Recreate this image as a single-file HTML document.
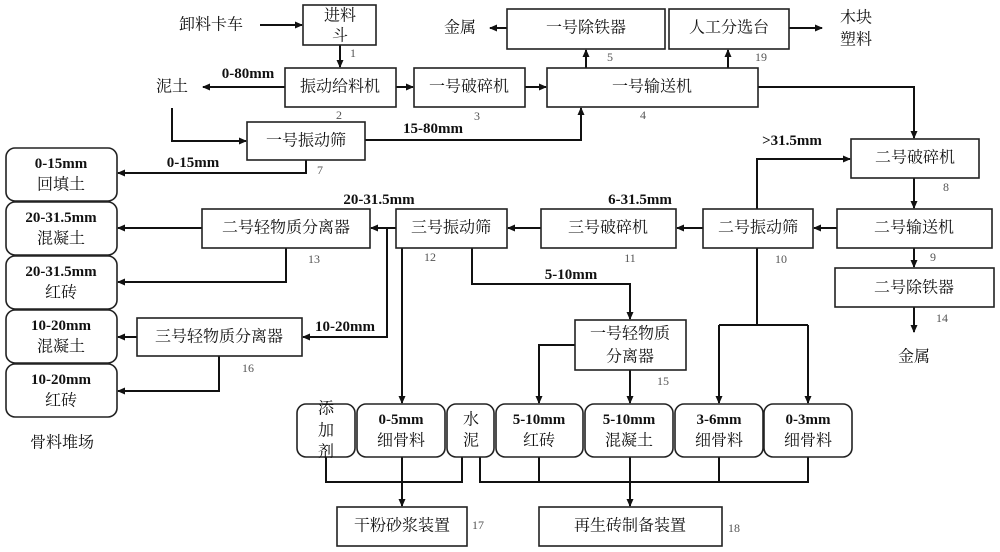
<!DOCTYPE html>
<html><head><meta charset="utf-8"><style>
html,body{margin:0;padding:0;background:#fff}
svg{display:block}
.t{font-family:"Liberation Serif","Noto Serif CJK SC",serif;font-size:16px;fill:#111;text-anchor:middle;dominant-baseline:central}
.b{font-family:"Liberation Serif","Noto Serif CJK SC",serif;font-size:15px;font-weight:bold;fill:#111;text-anchor:middle;dominant-baseline:central}
.n{font-family:"Liberation Serif",serif;font-size:12px;fill:#555;text-anchor:middle;dominant-baseline:central}
rect{fill:#fff;stroke:#222;stroke-width:1.6}
path,line{stroke:#111;stroke-width:2;fill:none}
</style></head><body>
<svg width="1000" height="552" viewBox="0 0 1000 552">
<defs><marker id="a" markerWidth="8" markerHeight="8" refX="7" refY="4" orient="auto" markerUnits="userSpaceOnUse"><path d="M0,0.5 L8,4 L0,7.5Z" style="fill:#111;stroke:none"/></marker></defs>

<g marker-end="url(#a)">
<line x1="260" y1="25" x2="302" y2="25"/>
<line x1="340" y1="45" x2="340" y2="67"/>
<line x1="285" y1="87" x2="203" y2="87"/>
<path d="M172,108 V141 H246"/>
<line x1="396" y1="87" x2="413" y2="87"/>
<line x1="525" y1="87" x2="546" y2="87"/>
<path d="M365,140 H581 V108"/>
<line x1="586" y1="68" x2="586" y2="50"/>
<line x1="728" y1="68" x2="728" y2="50"/>
<line x1="507" y1="28" x2="490" y2="28"/>
<line x1="789" y1="28" x2="822" y2="28"/>
<path d="M758,87 H914 V138"/>
<path d="M306,160 V173 H118"/>
<line x1="914" y1="178" x2="914" y2="208"/>
<line x1="837" y1="228" x2="814" y2="228"/>
<line x1="914" y1="248" x2="914" y2="267"/>
<line x1="914" y1="307" x2="914" y2="332"/>
<path d="M757,209 V159 H850"/>
<line x1="703" y1="228" x2="677" y2="228"/>
<line x1="719" y1="325" x2="719" y2="403"/>
<line x1="808" y1="325" x2="808" y2="403"/>
<line x1="541" y1="228" x2="508" y2="228"/>
<line x1="396" y1="228" x2="371" y2="228"/>
<path d="M387,228 V337 H303"/>
<line x1="402" y1="248" x2="402" y2="403"/>
<path d="M472,248 V284 H630 V319"/>
<line x1="202" y1="228" x2="118" y2="228"/>
<path d="M286,248 V282 H118"/>
<line x1="137" y1="337" x2="118" y2="337"/>
<path d="M219,356 V391 H118"/>
<path d="M575,345 H539 V403"/>
<line x1="630" y1="370" x2="630" y2="403"/>
<line x1="402" y1="457" x2="402" y2="506"/>
<line x1="630" y1="482" x2="630" y2="506"/>
</g>
<line x1="757" y1="248" x2="757" y2="325"/>
<line x1="719" y1="325" x2="808" y2="325"/>
<path d="M326,457 V482 H462 V457"/>
<path d="M480,457 V482 H808 V457"/>
<line x1="539" y1="457" x2="539" y2="482"/>
<line x1="630" y1="457" x2="630" y2="482"/>
<line x1="719" y1="457" x2="719" y2="482"/>

<rect x="303" y="5" width="73" height="40"/>
<text class="t" x="340" y="16">进料</text><text class="t" x="340" y="36">斗</text>
<rect x="285" y="68" width="111" height="39"/><text class="t" x="340" y="87">振动给料机</text>
<rect x="414" y="68" width="111" height="39"/><text class="t" x="469" y="87">一号破碎机</text>
<rect x="547" y="68" width="211" height="39"/><text class="t" x="652" y="87">一号输送机</text>
<rect x="507" y="9" width="158" height="40"/><text class="t" x="586" y="28">一号除铁器</text>
<rect x="669" y="9" width="120" height="40"/><text class="t" x="729" y="28">人工分选台</text>
<rect x="247" y="122" width="118" height="38"/><text class="t" x="306" y="141">一号振动筛</text>
<rect x="851" y="139" width="128" height="39"/><text class="t" x="915" y="158">二号破碎机</text>
<rect x="837" y="209" width="155" height="39"/><text class="t" x="914" y="228">二号输送机</text>
<rect x="703" y="209" width="110" height="39"/><text class="t" x="758" y="228">二号振动筛</text>
<rect x="541" y="209" width="135" height="39"/><text class="t" x="608" y="228">三号破碎机</text>
<rect x="396" y="209" width="111" height="39"/><text class="t" x="451" y="228">三号振动筛</text>
<rect x="202" y="209" width="168" height="39"/><text class="t" x="286" y="228">二号轻物质分离器</text>
<rect x="137" y="318" width="165" height="38"/><text class="t" x="219" y="337">三号轻物质分离器</text>
<rect x="575" y="320" width="111" height="50"/><text class="t" x="630" y="334">一号轻物质</text><text class="t" x="630" y="357">分离器</text>
<rect x="835" y="268" width="159" height="39"/><text class="t" x="914" y="288">二号除铁器</text>
<rect x="337" y="507" width="130" height="39"/><text class="t" x="402" y="526">干粉砂浆装置</text>
<rect x="539" y="507" width="183" height="39"/><text class="t" x="630" y="526">再生砖制备装置</text>

<g>
<rect x="6" y="148" width="111" height="53" rx="9"/><text class="b" x="61" y="164">0-15mm</text><text class="t" x="61" y="185">回填土</text>
<rect x="6" y="202" width="111" height="53" rx="9"/><text class="b" x="61" y="218">20-31.5mm</text><text class="t" x="61" y="239">混凝土</text>
<rect x="6" y="256" width="111" height="53" rx="9"/><text class="b" x="61" y="272">20-31.5mm</text><text class="t" x="61" y="293">红砖</text>
<rect x="6" y="310" width="111" height="53" rx="9"/><text class="b" x="61" y="326">10-20mm</text><text class="t" x="61" y="347">混凝土</text>
<rect x="6" y="364" width="111" height="53" rx="9"/><text class="b" x="61" y="380">10-20mm</text><text class="t" x="61" y="401">红砖</text>
<rect x="297" y="404" width="58" height="53" rx="9"/><text class="t" x="326" y="409">添</text><text class="t" x="326" y="431">加</text><text class="t" x="326" y="452">剂</text>
<rect x="357" y="404" width="88" height="53" rx="9"/><text class="b" x="401" y="420">0-5mm</text><text class="t" x="401" y="441">细骨料</text>
<rect x="447" y="404" width="47" height="53" rx="9"/><text class="t" x="471" y="420">水</text><text class="t" x="471" y="441">泥</text>
<rect x="496" y="404" width="87" height="53" rx="9"/><text class="b" x="539" y="420">5-10mm</text><text class="t" x="539" y="441">红砖</text>
<rect x="585" y="404" width="88" height="53" rx="9"/><text class="b" x="629" y="420">5-10mm</text><text class="t" x="629" y="441">混凝土</text>
<rect x="675" y="404" width="88" height="53" rx="9"/><text class="b" x="719" y="420">3-6mm</text><text class="t" x="719" y="441">细骨料</text>
<rect x="764" y="404" width="88" height="53" rx="9"/><text class="b" x="808" y="420">0-3mm</text><text class="t" x="808" y="441">细骨料</text>
</g>

<text class="t" x="211" y="25">卸料卡车</text>
<text class="t" x="172" y="87">泥土</text>
<text class="t" x="460" y="28">金属</text>
<text class="t" x="856" y="18">木块</text><text class="t" x="856" y="40">塑料</text>
<text class="t" x="914" y="357">金属</text>
<text class="t" x="62" y="443">骨料堆场</text>
<text class="b" x="248" y="74">0-80mm</text>
<text class="b" x="433" y="129">15-80mm</text>
<text class="b" x="193" y="163">0-15mm</text>
<text class="b" x="792" y="141">&gt;31.5mm</text>
<text class="b" x="640" y="200">6-31.5mm</text>
<text class="b" x="379" y="200">20-31.5mm</text>
<text class="b" x="345" y="327">10-20mm</text>
<text class="b" x="571" y="275">5-10mm</text>

<text class="n" x="353" y="53">1</text>
<text class="n" x="339" y="115">2</text>
<text class="n" x="477" y="116">3</text>
<text class="n" x="643" y="115">4</text>
<text class="n" x="610" y="57">5</text>
<text class="n" x="761" y="57">19</text>
<text class="n" x="320" y="170">7</text>
<text class="n" x="946" y="187">8</text>
<text class="n" x="933" y="257">9</text>
<text class="n" x="781" y="259">10</text>
<text class="n" x="630" y="258">11</text>
<text class="n" x="430" y="257">12</text>
<text class="n" x="314" y="259">13</text>
<text class="n" x="942" y="318">14</text>
<text class="n" x="663" y="381">15</text>
<text class="n" x="248" y="368">16</text>
<text class="n" x="478" y="525">17</text>
<text class="n" x="734" y="528">18</text>
</svg>
</body></html>
